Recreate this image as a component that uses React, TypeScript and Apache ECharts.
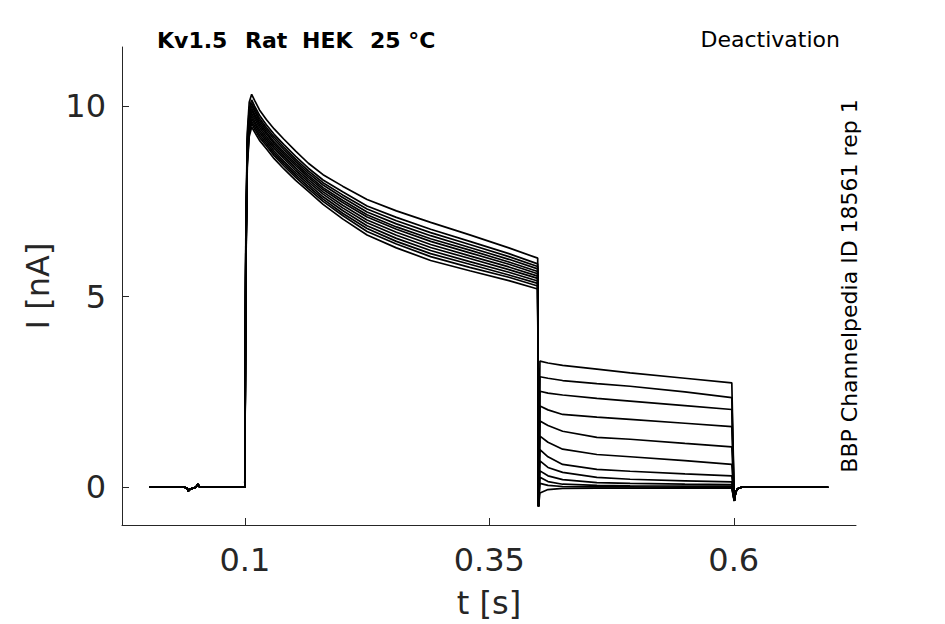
import React, { useEffect, useRef } from "react";
import * as echarts from "echarts";

// time points (s)
const BASE_T = [0.0025, 0.038, 0.041, 0.042, 0.044, 0.05, 0.052, 0.054, 0.1];
const BASE_I = [0, 0, -0.02, -0.1, -0.05, 0, 0.08, 0, 0];

const ACT_T = [0.101, 0.1025, 0.1045, 0.107, 0.11, 0.115, 0.122, 0.13, 0.14, 0.152, 0.165, 0.18, 0.2, 0.225, 0.255, 0.29, 0.33, 0.37, 0.3995];

const ACTIVATION: number[][] = [
  [6.5, 9.3, 10.1, 10.31, 10.15, 9.9, 9.65, 9.4, 9.13, 8.82, 8.5, 8.2, 7.9, 7.55, 7.25, 6.95, 6.62, 6.28, 6.01],
  [6.3, 9.14, 9.94, 10.16, 10.0, 9.76, 9.51, 9.26, 8.99, 8.68, 8.37, 8.06, 7.75, 7.38, 7.08, 6.77, 6.45, 6.13, 5.86],
  [6.2, 9.06, 9.86, 10.08, 9.93, 9.68, 9.44, 9.19, 8.92, 8.61, 8.3, 7.99, 7.67, 7.3, 6.99, 6.68, 6.37, 6.05, 5.79],
  [6.1, 8.99, 9.79, 10.01, 9.86, 9.62, 9.38, 9.13, 8.86, 8.55, 8.24, 7.93, 7.6, 7.22, 6.91, 6.6, 6.29, 5.98, 5.73],
  [6.1, 8.91, 9.71, 9.94, 9.79, 9.56, 9.32, 9.06, 8.79, 8.49, 8.18, 7.86, 7.53, 7.15, 6.83, 6.52, 6.22, 5.91, 5.66],
  [6.0, 8.85, 9.65, 9.88, 9.74, 9.5, 9.27, 9.01, 8.74, 8.44, 8.13, 7.81, 7.47, 7.09, 6.77, 6.45, 6.15, 5.85, 5.6],
  [5.9, 8.78, 9.58, 9.81, 9.67, 9.44, 9.2, 8.95, 8.68, 8.37, 8.07, 7.75, 7.4, 7.01, 6.69, 6.37, 6.07, 5.78, 5.54],
  [5.8, 8.71, 9.51, 9.74, 9.6, 9.37, 9.14, 8.89, 8.62, 8.31, 8.01, 7.69, 7.33, 6.94, 6.61, 6.29, 6.0, 5.71, 5.48],
  [5.8, 8.63, 9.43, 9.67, 9.54, 9.31, 9.08, 8.82, 8.55, 8.25, 7.95, 7.62, 7.26, 6.86, 6.53, 6.21, 5.92, 5.64, 5.41],
  [5.7, 8.56, 9.36, 9.6, 9.47, 9.24, 9.02, 8.76, 8.49, 8.19, 7.89, 7.56, 7.19, 6.79, 6.45, 6.13, 5.85, 5.57, 5.35],
  [5.6, 8.49, 9.29, 9.54, 9.4, 9.18, 8.96, 8.7, 8.43, 8.13, 7.83, 7.5, 7.13, 6.71, 6.38, 6.05, 5.77, 5.51, 5.28],
  [5.5, 8.4, 9.2, 9.45, 9.32, 9.1, 8.88, 8.62, 8.35, 8.05, 7.76, 7.42, 7.04, 6.62, 6.28, 5.95, 5.68, 5.42, 5.2],
];

const STEP_T = [0.4003];
const STEP_I = [-0.5];

const TAIL_T = [0.4018, 0.41, 0.425, 0.46, 0.494, 0.55, 0.598];
const TAILS: number[][] = [
  [3.31, 3.26, 3.2, 3.1, 3.0, 2.86, 2.74],
  [2.9, 2.86, 2.8, 2.72, 2.65, 2.5, 2.35],
  [2.52, 2.47, 2.42, 2.33, 2.26, 2.14, 2.04],
  [2.13, 2.03, 1.91, 1.84, 1.78, 1.68, 1.59],
  [1.74, 1.62, 1.47, 1.31, 1.26, 1.15, 1.06],
  [1.34, 1.18, 1.0, 0.86, 0.8, 0.7, 0.6],
  [0.99, 0.8, 0.6, 0.47, 0.42, 0.35, 0.3],
  [0.69, 0.52, 0.39, 0.26, 0.21, 0.17, 0.14],
  [0.43, 0.3, 0.2, 0.12, 0.1, 0.08, 0.07],
  [0.26, 0.15, 0.08, 0.05, 0.04, 0.03, 0.03],
  [0.1, 0.05, 0.02, 0.01, 0.01, 0.0, 0.0],
  [-0.15, -0.06, -0.03, -0.02, -0.02, -0.02, -0.02],
];

const OFF_T = [0.6005, 0.602, 0.604, 0.608, 0.6966];
const OFF_I = [-0.36, -0.12, -0.04, 0, 0];

const X_TICKS = [0.1, 0.35, 0.6];
const Y_TICKS = [0, 5, 10];

const FONT = "DejaVu Sans";
const INK = "#262626";

function pairs(t: number[], v: number[]) {
  return t.map((x, i) => [x, v[i]]);
}

function buildSeries() {
  return ACTIVATION.map((act, k) => ({
    type: "line",
    showSymbol: false,
    silent: true,
    lineStyle: { color: "#000", width: 1.7 },
    data: [
      ...pairs(BASE_T, BASE_I),
      ...pairs(ACT_T, act),
      ...pairs(STEP_T, STEP_I),
      ...pairs(TAIL_T, TAILS[k]),
      ...pairs(OFF_T, OFF_I),
    ],
  }));
}

export default function App() {
  const ref = useRef<HTMLDivElement>(null);
  useEffect(() => {
    const chart = echarts.init(ref.current as HTMLDivElement, null, { renderer: "svg" });
    chart.setOption({
      animation: false,
      backgroundColor: "#fff",
      grid: { left: 122, right: 89, top: 47, bottom: 98, containLabel: false },
      xAxis: {
        type: "value",
        min: -0.0256,
        max: 0.725,
        axisLine: { show: true, onZero: false, lineStyle: { color: INK, width: 1 } },
        axisTick: { show: true, inside: true, length: 7, customValues: X_TICKS, lineStyle: { color: INK } },
        axisLabel: { customValues: X_TICKS, fontSize: 32, fontFamily: FONT, color: INK, margin: 19 },
        splitLine: { show: false },
        name: "t [s]",
        nameLocation: "middle",
        nameGap: 62,
        nameTextStyle: { fontSize: 32, fontFamily: FONT, color: INK },
      },
      yAxis: {
        type: "value",
        min: -0.99,
        max: 11.55,
        axisLine: { show: true, onZero: false, lineStyle: { color: INK, width: 1 } },
        axisTick: { show: true, inside: true, length: 7, customValues: Y_TICKS, lineStyle: { color: INK } },
        axisLabel: { customValues: Y_TICKS, fontSize: 32, fontFamily: FONT, color: INK, margin: 16 },
        splitLine: { show: false },
        name: "I [nA]",
        nameLocation: "middle",
        nameGap: 66,
        nameTextStyle: { fontSize: 32, fontFamily: FONT, color: INK },
      },
      graphic: [
        { type: "text", x: 157, y: 40, style: { text: "Kv1.5", font: `bold 22px '${FONT}'`, fill: "#000", verticalAlign: "middle" } },
        { type: "text", x: 245, y: 40, style: { text: "Rat", font: `bold 22px '${FONT}'`, fill: "#000", verticalAlign: "middle" } },
        { type: "text", x: 302, y: 40, style: { text: "HEK", font: `bold 22px '${FONT}'`, fill: "#000", verticalAlign: "middle" } },
        { type: "text", x: 370, y: 40, style: { text: "25 °C", font: `bold 22px '${FONT}'`, fill: "#000", verticalAlign: "middle" } },
        { type: "text", x: 840, y: 39, style: { text: "Deactivation", font: `22px '${FONT}'`, fill: "#000", align: "right", verticalAlign: "middle" } },
        { type: "text", x: 849, y: 286, rotation: Math.PI / 2, style: { text: "BBP Channelpedia ID 18561 rep 1", font: `22px '${FONT}'`, fill: "#000", align: "center", verticalAlign: "middle" } },
      ],
      series: buildSeries(),
    });
    return () => chart.dispose();
  }, []);
  return <div ref={ref} style={{ position: "fixed", left: 0, top: 0, width: 945, height: 624, background: "#fff" }} />;
}
